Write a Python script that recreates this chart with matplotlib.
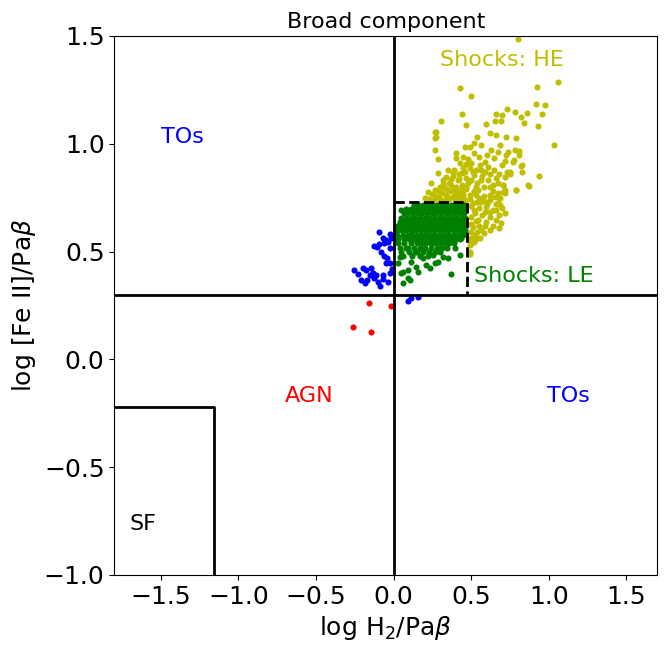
import matplotlib
matplotlib.use("Agg")
import matplotlib.pyplot as plt

# ---------------- data ----------------
# Shocks: HE (yellow)
he_pts = [
    (0.80, 1.485), (1.06, 1.285), (0.925, 1.262), (0.43, 1.257), (0.50, 1.22),
    (0.92, 1.185), (0.975, 1.18), (0.73, 1.162), (0.66, 1.137), (0.70, 1.132),
    (0.78, 1.147), (0.86, 1.143), (0.82, 1.126), (0.955, 1.137), (0.44, 1.137),
    (0.305, 1.106), (0.655, 1.106), (0.69, 1.106), (0.84, 1.098), (0.47, 1.086),
    (0.595, 1.09), (0.93, 1.081), (0.27, 1.055), (0.27, 1.027), (1.035, 0.993),
    (0.27, 0.97), (0.935, 0.85), (0.87, 0.804), (0.79, 0.784), (0.82, 0.897),
    (0.825, 0.868), (0.775, 0.925), (0.74, 0.963), (0.81, 0.967), (0.75, 0.86),
    (0.73, 0.87), (0.705, 0.809), (0.71, 0.778), (0.66, 0.755), (0.675, 0.724),
    (0.715, 0.77), (0.865, 0.81),
    (0.275, 1.056), (0.275, 1.03), (0.286, 0.928),
    (0.535, 1.033), (0.62, 1.049), (0.66, 1.04), (0.727, 1.03), (0.79, 1.025),
    (0.52, 1.002), (0.46, 0.984), (0.49, 0.987), (0.565, 0.994), (0.685, 0.994),
    (0.63, 0.97), (0.727, 0.948), (0.78, 0.97), (0.81, 0.948),
    (0.405, 0.956), (0.405, 0.933), (0.447, 0.94), (0.52, 0.956), (0.65, 0.933),
    (0.587, 0.917), (0.61, 0.894), (0.77, 0.917), (0.825, 0.902), (0.75, 0.87),
    (0.715, 0.848), (0.65, 0.878), (0.66, 0.84), (0.35, 0.878), (0.383, 0.863),
    (0.286, 0.863), (0.318, 0.832), (0.243, 0.817), (0.265, 0.786), (0.221, 0.778),
    (0.20, 0.747), (0.33, 0.794), (0.372, 0.809), (0.415, 0.832), (0.46, 0.87),
    (0.49, 0.886), (0.52, 0.855), (0.565, 0.878), (0.565, 0.832), (0.48, 0.817),
    (0.437, 0.786), (0.394, 0.762), (0.35, 0.755), (0.286, 0.755), (0.49, 0.762),
    (0.544, 0.786), (0.62, 0.801), (0.715, 0.786), (0.79, 0.786), (0.705, 0.809),
    (0.685, 0.747), (0.63, 0.755), (0.576, 0.739), (0.535, 0.731), (0.595, 0.708),
    (0.62, 0.685), (0.66, 0.693), (0.52, 0.693), (0.705, 0.778),
    (0.512, 0.724), (0.566, 0.731), (0.62, 0.739), (0.684, 0.716), (0.64, 0.693),
    (0.587, 0.685), (0.523, 0.678), (0.544, 0.647), (0.598, 0.639), (0.663, 0.647),
    (0.695, 0.631), (0.512, 0.615), (0.566, 0.60), (0.62, 0.60), (0.523, 0.577),
    (0.50, 0.554), (0.49, 0.531), (0.49, 0.50), (0.426, 0.77), (0.383, 0.755),
    (0.34, 0.762), (0.534, 0.762), (0.62, 0.762), (0.49, 0.487),
    (0.23, 0.745), (0.26, 0.74), (0.30, 0.745), (0.33, 0.74), (0.36, 0.745),
    (0.40, 0.74), (0.43, 0.745), (0.46, 0.74), (0.25, 0.765), (0.31, 0.77),
    (0.37, 0.78), (0.41, 0.775), (0.45, 0.765), (0.47, 0.79), (0.30, 0.80),
    (0.36, 0.82), (0.40, 0.80), (0.44, 0.81), (0.47, 0.84), (0.50, 0.83),
    (0.54, 0.82), (0.58, 0.80), (0.61, 0.83), (0.64, 0.81), (0.67, 0.82),
    (0.38, 0.85), (0.42, 0.86), (0.45, 0.89), (0.50, 0.91), (0.53, 0.88),
    (0.56, 0.90), (0.59, 0.87), (0.62, 0.86), (0.68, 0.86), (0.70, 0.90),
    (0.43, 0.91), (0.48, 0.93), (0.55, 0.94), (0.60, 0.95), (0.67, 0.96),
    (0.72, 0.92), (0.57, 0.85), (0.47, 0.80), (0.52, 0.78), (0.58, 0.76),
    (0.64, 0.78), (0.67, 0.77), (0.55, 0.75), (0.60, 0.73), (0.45, 0.76),
    (0.40, 0.78),
    (0.50, 0.71), (0.55, 0.70), (0.60, 0.72), (0.66, 0.72), (0.70, 0.70),
    (0.50, 0.66), (0.53, 0.64), (0.57, 0.67), (0.62, 0.66), (0.68, 0.67),
    (0.72, 0.68), (0.50, 0.63), (0.55, 0.62), (0.59, 0.62), (0.64, 0.62),
    (0.68, 0.61), (0.50, 0.59), (0.54, 0.59), (0.58, 0.585), (0.50, 0.565),
    (0.53, 0.56), (0.56, 0.565), (0.50, 0.54), (0.52, 0.545),
    (0.32, 0.815), (0.34, 0.845), (0.37, 0.835), (0.39, 0.88), (0.42, 0.835),
    (0.44, 0.865), (0.47, 0.905), (0.51, 0.87), (0.39, 0.795), (0.35, 0.785),
    (0.29, 0.78), (0.27, 0.76), (0.42, 0.755), (0.49, 0.745), (0.53, 0.80),
]

# Shocks: LE (green) - dense core
le_core = [
    (0.13, 0.718), (0.16, 0.718), (0.19, 0.718), (0.22, 0.718), (0.25, 0.718),
    (0.28, 0.718), (0.31, 0.718), (0.34, 0.718), (0.37, 0.718), (0.40, 0.718),
    (0.43, 0.718), (0.455, 0.718),
    (0.08, 0.698), (0.11, 0.698), (0.145, 0.698), (0.175, 0.698), (0.205, 0.698),
    (0.235, 0.698), (0.265, 0.698), (0.295, 0.698), (0.325, 0.698), (0.355, 0.698),
    (0.385, 0.698), (0.415, 0.698), (0.445, 0.698), (0.46, 0.698),
    (0.065, 0.678), (0.095, 0.678), (0.125, 0.678), (0.155, 0.678), (0.185, 0.678),
    (0.215, 0.678), (0.245, 0.678), (0.275, 0.678), (0.305, 0.678), (0.335, 0.678),
    (0.365, 0.678), (0.395, 0.678), (0.425, 0.678), (0.455, 0.678),
    (0.05, 0.658), (0.08, 0.658), (0.11, 0.658), (0.14, 0.658), (0.17, 0.658),
    (0.20, 0.658), (0.23, 0.658), (0.26, 0.658), (0.29, 0.658), (0.32, 0.658),
    (0.35, 0.658), (0.38, 0.658), (0.41, 0.658), (0.44, 0.658), (0.46, 0.658),
    (0.04, 0.638), (0.07, 0.638), (0.10, 0.638), (0.13, 0.638), (0.16, 0.638),
    (0.19, 0.638), (0.22, 0.638), (0.25, 0.638), (0.28, 0.638), (0.31, 0.638),
    (0.34, 0.638), (0.37, 0.638), (0.40, 0.638), (0.43, 0.638), (0.455, 0.638),
    (0.025, 0.618), (0.055, 0.618), (0.085, 0.618), (0.115, 0.618), (0.145, 0.618),
    (0.175, 0.618), (0.205, 0.618), (0.235, 0.618), (0.265, 0.618), (0.295, 0.618),
    (0.325, 0.618), (0.355, 0.618), (0.385, 0.618), (0.415, 0.618), (0.445, 0.618),
    (0.02, 0.598), (0.05, 0.598), (0.08, 0.598), (0.11, 0.598), (0.14, 0.598),
    (0.17, 0.598), (0.20, 0.598), (0.23, 0.598), (0.26, 0.598), (0.29, 0.598),
    (0.32, 0.598), (0.35, 0.598), (0.38, 0.598), (0.41, 0.598), (0.44, 0.598),
    (0.46, 0.598),
    (0.025, 0.578), (0.06, 0.578), (0.09, 0.578), (0.12, 0.578), (0.15, 0.578),
    (0.18, 0.578), (0.21, 0.578), (0.24, 0.578), (0.27, 0.578), (0.30, 0.578),
    (0.33, 0.578), (0.36, 0.578), (0.39, 0.578), (0.42, 0.578), (0.45, 0.578),
    (0.03, 0.558), (0.065, 0.558), (0.10, 0.558), (0.13, 0.558), (0.16, 0.558),
    (0.19, 0.558), (0.22, 0.558), (0.25, 0.558), (0.28, 0.558), (0.31, 0.558),
    (0.34, 0.558), (0.37, 0.558), (0.40, 0.558), (0.43, 0.558),
    (0.03, 0.538), (0.07, 0.538), (0.11, 0.538), (0.15, 0.538), (0.18, 0.538),
    (0.21, 0.538), (0.24, 0.538), (0.27, 0.538), (0.30, 0.538), (0.33, 0.538),
    (0.36, 0.538), (0.39, 0.538),
    (0.04, 0.518), (0.09, 0.518), (0.13, 0.518), (0.17, 0.518), (0.205, 0.518),
    (0.24, 0.518), (0.28, 0.518), (0.31, 0.518), (0.345, 0.518),
    (0.045, 0.498), (0.10, 0.498), (0.15, 0.498), (0.19, 0.498), (0.23, 0.498),
    (0.27, 0.498), (0.30, 0.498),
    (0.06, 0.478), (0.12, 0.478), (0.17, 0.478), (0.22, 0.478),
]

# Shocks: LE (green) - scattered outskirts
le_outer = [
    (0.05, 0.693), (0.017, 0.615), (0.028, 0.569), (0.039, 0.476), (0.028, 0.446),
    (0.06, 0.407), (0.092, 0.376), (0.06, 0.353), (0.372, 0.395), (0.189, 0.469),
    (0.254, 0.484), (0.318, 0.476), (0.286, 0.453), (0.211, 0.438), (0.146, 0.43),
    (0.114, 0.453), (0.135, 0.50), (0.082, 0.515), (0.092, 0.415), (0.394, 0.515),
    (0.437, 0.562), (0.157, 0.407), (0.232, 0.423), (0.265, 0.446), (0.35, 0.469),
    (0.426, 0.484), (0.05, 0.40), (0.103, 0.368),
]

# TOs (blue)
to_pts = [
    (-0.095, 0.59), (-0.127, 0.526), (-0.095, 0.534), (-0.063, 0.538), (-0.069, 0.562),
    (-0.037, 0.546), (-0.026, 0.515), (-0.047, 0.554), (-0.015, 0.562), (-0.063, 0.48),
    (-0.047, 0.446), (-0.026, 0.449), (-0.252, 0.415), (-0.198, 0.423), (-0.176, 0.415),
    (-0.144, 0.423), (-0.134, 0.40), (-0.23, 0.395), (-0.208, 0.368), (-0.187, 0.356),
    (-0.123, 0.376), (-0.101, 0.36), (-0.09, 0.34), (-0.069, 0.371), (-0.069, 0.391),
    (-0.037, 0.36), (-0.026, 0.40), (-0.112, 0.391), (0.092, 0.27), (0.114, 0.283),
    (0.157, 0.29), (-0.11, 0.52), (-0.08, 0.50), (-0.04, 0.47), (-0.02, 0.58),
    (-0.01, 0.42), (-0.155, 0.39), (-0.17, 0.37),
]

# AGN (red)
agn_pts = [(-0.16, 0.26), (-0.015, 0.249), (-0.26, 0.152), (-0.146, 0.126)]

# region boundaries
x_div, y_div = 0.0, 0.3
sf_x, sf_y = -1.16, -0.22
le_box_x, le_box_y = 0.473, 0.73

xlim = (-1.8, 1.7)
ylim = (-1.0, 1.5)
xticks = [-1.5, -1.0, -0.5, 0.0, 0.5, 1.0, 1.5]
yticks = [-1.0, -0.5, 0.0, 0.5, 1.0, 1.5]

# ---------------- plot ----------------
fig = plt.figure(figsize=(6.66, 6.52), dpi=100)
ax = fig.add_axes([0.1716, 0.1181, 0.8154, 0.8267])

ms = 4.4
def pts(p):
    return [a for a, b in p], [b for a, b in p]

ax.plot(*pts(he_pts), 'o', color='y', ms=ms, mew=0, zorder=2)
ax.plot(*pts(le_core), 'o', color='g', ms=ms, mew=0, zorder=3)
ax.plot(*pts(le_outer), 'o', color='g', ms=ms, mew=0, zorder=3)
ax.plot(*pts(to_pts), 'o', color='b', ms=ms, mew=0, zorder=3)
ax.plot(*pts(agn_pts), 'o', color='r', ms=ms, mew=0, zorder=3)

ax.axvline(x_div, color='k', lw=2, zorder=5)
ax.axhline(y_div, color='k', lw=2, zorder=5)
ax.plot([xlim[0], sf_x, sf_x], [sf_y, sf_y, ylim[0]], color='k', lw=2, zorder=5)
ax.plot([x_div, le_box_x, le_box_x], [le_box_y, le_box_y, y_div], color='k',
        lw=2, ls='--', zorder=5)

fs = 16
ax.text(0.30, 1.39, 'Shocks: HE', color='y', fontsize=fs, va='center')
ax.text(-1.5, 1.03, 'TOs', color='b', fontsize=fs, va='center')
ax.text(0.52, 0.385, 'Shocks: LE', color='g', fontsize=fs, va='center')
ax.text(-0.70, -0.17, 'AGN', color='r', fontsize=fs, va='center')
ax.text(0.99, -0.17, 'TOs', color='b', fontsize=fs, va='center')
ax.text(-1.70, -0.765, 'SF', color='k', fontsize=fs, va='center')

ax.set_xlim(*xlim)
ax.set_ylim(*ylim)
ax.set_xticks(xticks)
ax.set_yticks(yticks)
ax.tick_params(labelsize=18)
ax.set_xlabel(r'log H$_2$/Pa$\beta$', fontsize=18)
ax.set_ylabel(r'log [Fe II]/Pa$\beta$', fontsize=18)
ax.set_title('Broad component', fontsize=16)

fig.savefig('out.png', dpi=100)
